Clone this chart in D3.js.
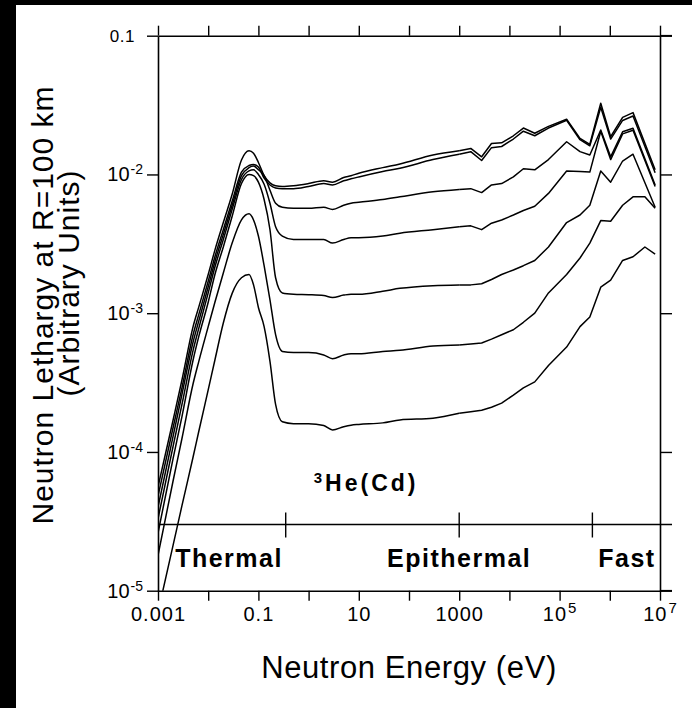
<!DOCTYPE html>
<html><head><meta charset="utf-8">
<script src="https://cdn.jsdelivr.net/npm/d3@7"></script>
<style>body{margin:0;background:#fff}svg{display:block}</style>
</head><body>
<script>
// ---- data ----
const energy = [0.001,0.002,0.003,0.005,0.0065,0.01,0.0136,0.02,0.03,0.046,0.065,0.08,0.1,0.13,0.17,0.22,0.3,0.5,1,2,3,5,7,10,30,66,300,1000,1700,2800,4400,7000,1.2e4,1.9e4,3.2e4,6e4,1.38e5,2.55e5,4e5,6.6e5,1.04e6,1.8e6,2.9e6,5e6,8e6];
const seriesA = [5.6e-5,1.7e-4,3.3e-4,8.0e-4,1.11e-3,1.9e-3,2.85e-3,4.5e-3,7.2e-3,0.0127,0.0148,0.0142,0.0122,0.0098,0.0087,0.0083,0.0082,0.0083,0.0086,0.0090,0.0088,0.0095,0.0098,0.0102,0.0112,0.0119,0.0138,0.0148,0.0154,0.0134,0.0167,0.0169,0.0190,0.0216,0.0198,0.0222,0.0250,0.0182,0.0165,0.0326,0.0187,0.0258,0.0279,null,0.0108];
const seriesB = [4.8e-5,1.5e-4,2.9e-4,7.0e-4,9.8e-4,1.7e-3,2.55e-3,4.0e-3,6.4e-3,0.0104,0.0116,0.0118,0.0113,0.0094,0.0084,0.0080,0.0079,0.0079,0.0082,0.0086,0.0084,0.0090,0.0093,0.0096,0.0105,0.0111,0.0128,0.0140,0.0146,0.0126,0.0156,0.0159,0.0180,0.0205,0.0190,0.0216,0.0246,0.0178,0.0161,0.0305,0.0180,0.0245,0.0264,null,0.0103];
const seriesC = [4.0e-5,1.3e-4,2.6e-4,6.2e-4,8.8e-4,1.55e-3,2.35e-3,3.7e-3,6.0e-3,0.0098,0.0112,0.0115,0.0108,0.0098,0.0077,0.0062,0.0058,0.0057,0.0057,0.0058,0.0056,0.0060,0.0062,0.0063,0.0066,0.0069,0.0075,0.0078,0.0079,0.0074,0.0084,0.0086,0.0096,0.0110,0.0108,0.0128,0.0172,0.0146,0.0138,0.0209,0.0134,0.0203,0.0215,null,0.0084];
const seriesD = [3.3e-5,1.1e-4,2.2e-4,5.4e-4,7.8e-4,1.4e-3,2.15e-3,3.4e-3,5.6e-3,0.0092,0.0106,0.0108,0.0100,0.0085,0.0062,0.0042,0.0036,0.0034,0.0034,0.0034,0.0032,0.0034,0.0035,0.0035,0.0036,0.00377,0.0040,0.0042,0.00426,0.0040,0.00445,0.0047,0.0051,0.0055,0.0059,0.0073,0.0106,0.0105,0.0104,0.0205,0.0128,0.0196,0.0208,null,0.0082];
const seriesE = [2.6e-5,9.0e-5,1.8e-4,4.6e-4,6.8e-4,1.2e-3,1.9e-3,3.0e-3,5.0e-3,0.0086,0.0100,0.0098,0.0088,0.0066,0.0040,0.0018,0.0014,0.00137,0.00136,0.00134,0.00130,0.00135,0.00137,0.00137,0.00144,0.00151,0.00158,0.0016,0.0016,0.00163,0.00175,0.0019,0.00205,0.0022,0.0024,0.0030,0.0045,0.0051,0.0060,0.0106,0.0088,0.0125,0.0140,null,0.0058];
const seriesF = [1.8e-5,6.2e-5,1.25e-4,3.1e-4,4.5e-4,8.0e-4,1.2e-3,1.95e-3,3.2e-3,0.0047,0.0052,0.0047,0.0036,0.0022,0.00125,7.0e-4,5.3e-4,5.2e-4,5.2e-4,5.0e-4,4.7e-4,5.0e-4,5.1e-4,5.1e-4,5.3e-4,5.4e-4,5.8e-4,5.9e-4,6.0e-4,6.1e-4,6.5e-4,7.0e-4,7.6e-4,8.6e-4,1.0e-3,1.4e-3,1.9e-3,2.5e-3,3.2e-3,4.65e-3,4.6e-3,6.0e-3,6.9e-3,6.9e-3,5.7e-3];
const seriesG = [7.0e-6,2.13e-5,4.1e-5,9.2e-5,1.41e-4,2.8e-4,4.6e-4,8.5e-4,1.39e-3,1.8e-3,1.9e-3,1.6e-3,1.1e-3,8.0e-4,4.5e-4,2.2e-4,1.65e-4,1.6e-4,1.6e-4,1.55e-4,1.44e-4,1.52e-4,1.56e-4,1.58e-4,1.62e-4,1.7e-4,1.75e-4,1.9e-4,1.95e-4,2.0e-4,2.1e-4,2.25e-4,2.57e-4,2.9e-4,3.2e-4,4.2e-4,5.7e-4,8.0e-4,9.4e-4,1.54e-3,1.73e-3,2.4e-3,2.55e-3,3.0e-3,2.67e-3];
const allSeries = [seriesA,seriesB,seriesC,seriesD,seriesE,seriesF,seriesG];

const xTicks = [1e-3,1e-2,1e-1,1,10,100,1e3,1e4,1e5,1e6,1e7];
const xTickLabels = ["0.001","","0.1","","10","","1000","","10|5","","10|7"];
const yTicks = [1e-5,1e-4,1e-3,1e-2,1e-1];
const yTickLabels = ["10|-5","10|-4","10|-3","10|-2","0.1"];
const regionLevel = 3e-5;
const regionBounds = [0.35, 1000, 4.5e5];
const regionNames = ["Thermal","Epithermal","Fast"];
const regionLabelE = [0.026, 1000, 2.2e6];
const detectorLabel = {base:"He(Cd)", sup:"3", e:14, v:5.2e-5};
const smoothUpTo = 1000; // smooth curve below this energy, straight segments above

// ---- drawing ----
const W=692,H=708;
const svg=d3.select("body").append("svg").attr("width",W).attr("height",H);
svg.append("rect").attr("width",W).attr("height",H).attr("fill","#fff");
svg.append("rect").attr("x",0).attr("y",0).attr("width",16).attr("height",H).attr("fill","#000");
svg.append("rect").attr("x",0).attr("y",0).attr("width",W).attr("height",5).attr("fill","#000");

const x=d3.scaleLog().domain([1e-3,1e7]).range([158,660]);
const y=d3.scaleLog().domain([1e-5,0.1]).range([590.7,35.7]);
const FONT="'Liberation Sans', Arial, Helvetica, sans-serif";

svg.append("clipPath").attr("id","clip").append("rect")
  .attr("x",158).attr("y",35.7).attr("width",502).attr("height",555);

function supLabel(sel, lab, fs, supFs, rise){
  sel.text(null);
  if(!lab) return;
  const p=lab.split("|");
  sel.append("tspan").text(p[0]);
  if(p.length>1) sel.append("tspan").attr("dy",-rise).attr("dx",1).attr("font-size",supFs).text(p[1]);
}
function styleAxis(g){
  g.select(".domain").attr("stroke","#000").attr("stroke-width",1.6);
  g.selectAll(".tick line").attr("stroke","#000").attr("stroke-width",1.4);
}

// bottom
const gb=svg.append("g").attr("transform",`translate(0,${y(1e-5)})`)
  .call(d3.axisBottom(x).tickValues(xTicks).tickSize(10).tickSizeOuter(0).tickPadding(6));
styleAxis(gb);
gb.selectAll(".tick text").attr("font-family",FONT).attr("font-size",20).attr("letter-spacing",1).attr("fill","#000")
  .each(function(d,i){supLabel(d3.select(this),xTickLabels[i],20,15,8);});
// top
const gt=svg.append("g").attr("transform",`translate(0,${y(0.1)})`)
  .call(d3.axisTop(x).tickValues(xTicks).tickSize(10).tickSizeOuter(0).tickFormat(""));
styleAxis(gt);
// left
const gl=svg.append("g").attr("transform",`translate(${x(1e-3)},0)`)
  .call(d3.axisLeft(y).tickValues(yTicks).tickSize(11).tickSizeOuter(0).tickPadding(4));
styleAxis(gl);
gl.selectAll(".tick text").attr("font-family",FONT).attr("fill","#000")
  .each(function(d,i){
    const lab=yTickLabels[i], t=d3.select(this);
    if(lab.includes("|")){ t.attr("font-size",20); supLabel(t,lab,20,14,7); }
    else { t.attr("font-size",17).attr("dx",-8).attr("letter-spacing",0.5).text(lab); }
  });
// right
const gr=svg.append("g").attr("transform",`translate(${x(1e7)},0)`)
  .call(d3.axisRight(y).tickValues(yTicks).tickSize(12).tickSizeOuter(0).tickFormat(""));
styleAxis(gr);
[0.1,1e-5].forEach(v=>svg.append("line").attr("x1",x(1e7)).attr("x2",x(1e7)+12)
  .attr("y1",y(v)).attr("y2",y(v)).attr("stroke","#000").attr("stroke-width",1.6));

// region line
svg.append("line").attr("x1",x(1e-3)).attr("x2",x(1e7)+12).attr("y1",y(regionLevel)).attr("y2",y(regionLevel))
  .attr("stroke","#000").attr("stroke-width",1.5);
regionBounds.forEach(b=>svg.append("line").attr("x1",x(b)).attr("x2",x(b))
  .attr("y1",y(regionLevel)-12).attr("y2",y(regionLevel)+13).attr("stroke","#000").attr("stroke-width",1.4));
regionNames.forEach((n,i)=>svg.append("text").attr("x",x(regionLabelE[i])).attr("y",567)
  .attr("text-anchor","middle").attr("font-family",FONT).attr("font-weight","bold")
  .attr("font-size",25).attr("letter-spacing",1.5).text(n));
const dl=svg.append("text").attr("x",x(detectorLabel.e)).attr("y",y(detectorLabel.v))
  .attr("text-anchor","middle").attr("font-family",FONT).attr("font-weight","bold").attr("font-size",23).attr("letter-spacing",3);
dl.append("tspan").attr("font-size",15).attr("dy",-8).text(detectorLabel.sup);
dl.append("tspan").attr("dy",8).text(detectorLabel.base);

// curves
const smooth=d3.line().x(d=>x(d.e)).y(d=>y(d.v)).curve(d3.curveMonotoneX);
const straight=d3.line().x(d=>x(d.e)).y(d=>y(d.v)).curve(d3.curveLinear);
const gc=svg.append("g").attr("clip-path","url(#clip)")
  .attr("fill","none").attr("stroke","#000").attr("stroke-width",1.5).attr("stroke-linejoin","round");
allSeries.forEach(s=>{
  const pts=energy.map((e,i)=>({e,v:s[i]})).filter(d=>d.v!=null);
  gc.append("path").attr("d",smooth(pts.filter(d=>d.e<=smoothUpTo)));
  gc.append("path").attr("d",straight(pts.filter(d=>d.e>=smoothUpTo)));
});

// titles
svg.append("text").attr("x",409).attr("y",678).attr("text-anchor","middle")
  .attr("font-family",FONT).attr("font-size",31).attr("letter-spacing",0.6).text("Neutron Energy (eV)");
svg.append("text").attr("transform","translate(53,305) rotate(-90)").attr("text-anchor","middle")
  .attr("font-family",FONT).attr("font-size",30).attr("letter-spacing",1).text("Neutron Lethargy at R=100 km");
svg.append("text").attr("transform","translate(79,283) rotate(-90)").attr("text-anchor","middle")
  .attr("font-family",FONT).attr("font-size",30).attr("letter-spacing",1).text("(Arbitrary Units)");
</script>
</body></html>
